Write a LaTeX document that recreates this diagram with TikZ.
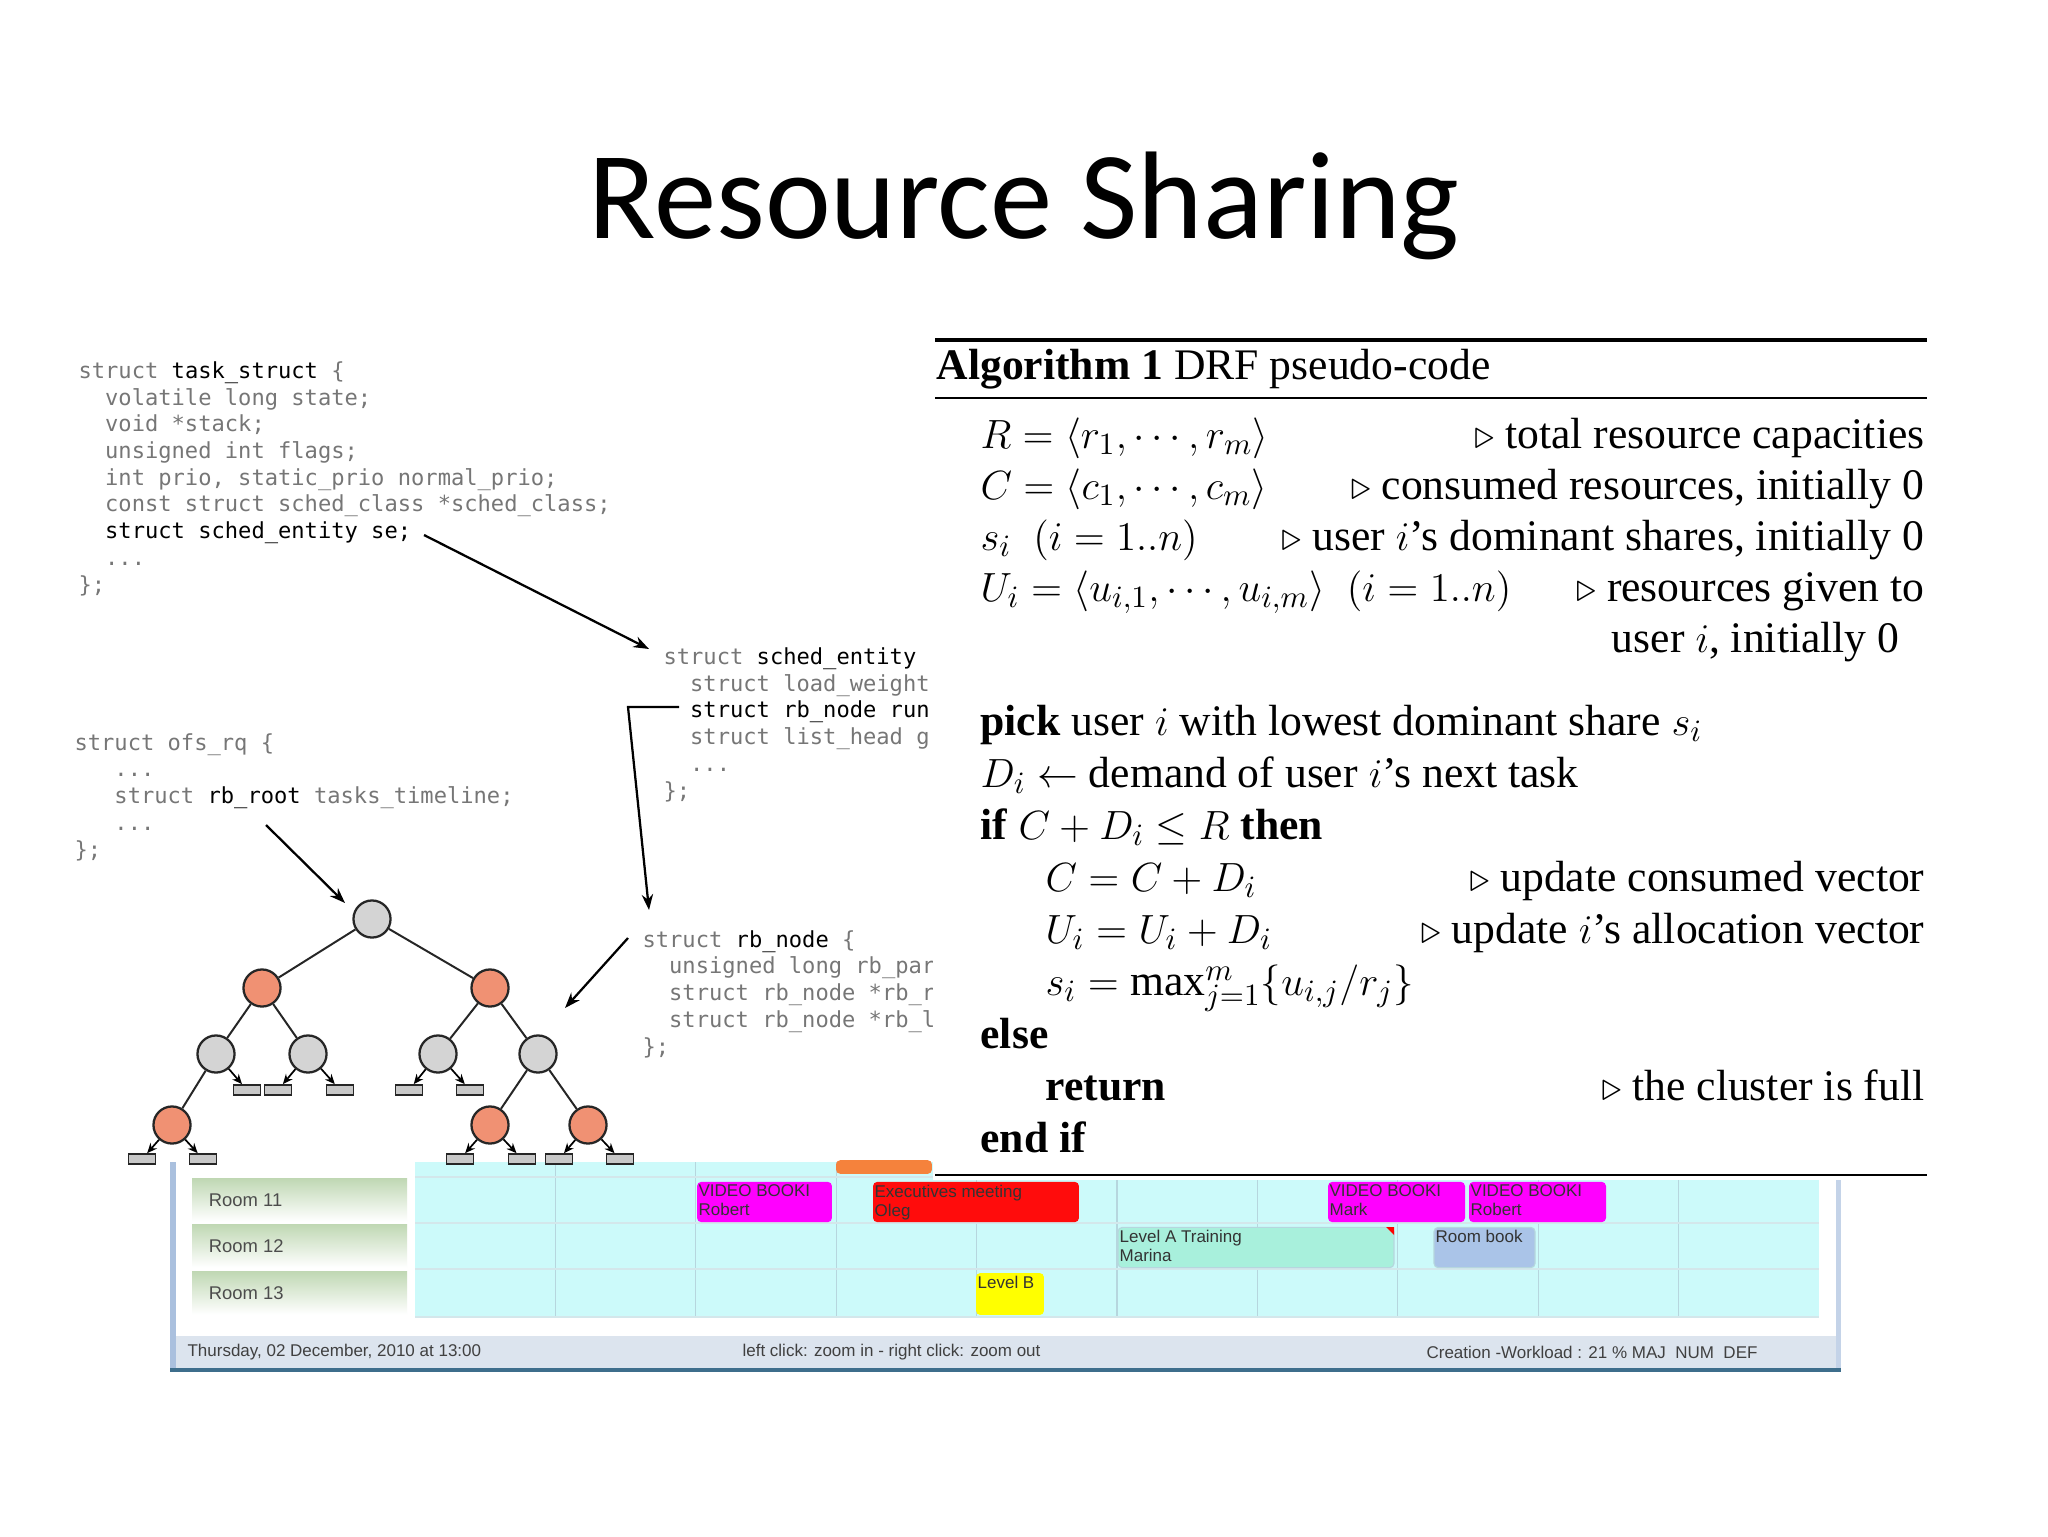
\documentclass[tikz,border=0pt]{standalone}
\usepackage{fontspec}
\setmainfont{Liberation Serif}
\newfontfamily\titlefam{Carlito}
\newfontfamily\codefam{DejaVu Sans Mono}
\newfontfamily\uifam{Liberation Sans}
\usetikzlibrary{arrows.meta,positioning}
\definecolor{codegray}{RGB}{118,118,118}
\definecolor{nodegray}{RGB}{212,212,212}
\definecolor{nodered}{RGB}{240,145,115}
\definecolor{nilgray}{RGB}{200,200,200}
\definecolor{gridcyan}{RGB}{204,250,250}
\definecolor{gridline}{RGB}{182,214,222}
\definecolor{roomgreen}{RGB}{192,216,180}
\definecolor{winblue}{RGB}{170,192,222}
\definecolor{barblue}{RGB}{220,228,238}
\definecolor{frameteal}{RGB}{62,110,140}
\definecolor{evmag}{RGB}{255,0,255}
\definecolor{evred}{RGB}{255,12,12}
\definecolor{evaqua}{RGB}{168,240,220}
\definecolor{evblue}{RGB}{170,196,232}
\definecolor{evyellow}{RGB}{255,255,0}
\definecolor{evorange}{RGB}{245,130,60}
\newcommand{\codefont}{\codefam\fontsize{7.8}{9.42}\selectfont}
\newcommand{\algfont}{\fontsize{15.4}{18}\selectfont}
\newcommand{\hl}[1]{\textcolor{black}{#1}}
\newcommand{\tb}{\phantom{xx}}
\newcommand{\tbb}{\phantom{xxx}}

\begin{document}
\begin{tikzpicture}[x=0.0124023cm,y=-0.0124023cm,
  code/.style={font=\codefont,text=codegray,align=left,inner sep=0pt,anchor=base west},
  gnode/.style={circle,draw=black!85,fill=nodegray,line width=0.8pt,minimum size=0.46cm,inner sep=0pt},
  rnode/.style={gnode,fill=nodered},
  nil/.style={draw=black!85,fill=nilgray,line width=0.6pt,minimum width=0.335cm,minimum height=0.124cm,inner sep=0pt},
  edge/.style={line width=0.7pt,black!85},
  nilptr/.style={-{Stealth[length=3.5pt,width=3pt]},line width=0.6pt},
  ptr/.style={-{Stealth[length=5.5pt,width=4pt]},line width=0.8pt},
  algtxt/.style={font=\algfont,inner sep=0pt,anchor=base west},
  algcmt/.style={font=\algfont,inner sep=0pt,anchor=base east},
  roomcell/.style={top color=roomgreen,bottom color=white,minimum width=2.667cm,minimum height=0.53cm,inner sep=0pt},
  roomtxt/.style={font=\uifam\fontsize{6.5}{7}\selectfont,text=black!70,inner sep=0pt,anchor=west},
  event/.style={rounded corners=1.5pt,inner sep=0pt,minimum height=0.5cm},
  evtxt/.style={font=\uifam\fontsize{6}{6.6}\selectfont,text=black!80,align=left,inner sep=0pt},
  bartxt/.style={font=\uifam\fontsize{6}{7}\selectfont,text=black!75,inner sep=0pt,anchor=west}]
\useasboundingbox (0,0) rectangle (2048,1536);

% title
\node[font=\titlefam\fontsize{44}{50}\selectfont,anchor=base,inner sep=0pt] (title) at (1024,238) {Resource Sharing};

% calendar screenshot
\fill[white] (170,1162) rectangle (1841,1372);
\fill[gridcyan] (415,1162) rectangle (1819,1317);
\foreach \k in {1,...,9}
  \draw[gridline,line width=0.4pt] ({415+140.4*\k},1162) -- ({415+140.4*\k},1317);
\foreach \r in {1177,1223,1269,1317}
  \draw[gridline!60,line width=0.6pt] (415,\r) -- (1819,\r);
\fill[winblue] (170,1162) rectangle (176,1370);
\fill[winblue!70] (1836,1162) rectangle (1841,1370);
\fill[barblue] (176,1336) rectangle (1836,1368);
\fill[frameteal] (170,1368) rectangle (1841,1372);
\node[roomcell] (rm11) at (299.5,1200) {};
\node[roomcell] (rm12) at (299.5,1246) {};
\node[roomcell] (rm13) at (299.5,1293) {};
\node[roomtxt,right=0.21cm of rm11.west] (t11) {Room 11};
\node[roomtxt,right=0.21cm of rm12.west] (t12) {Room 12};
\node[roomtxt,right=0.21cm of rm13.west] (t13) {Room 13};
\node[event,fill=evorange,minimum width=1.19cm,minimum height=0.17cm] (evo) at (884,1167) {};
\node[event,fill=evmag,minimum width=1.674cm] (ev1) at (764.5,1202) {};
\node[event,fill=evred,minimum width=2.555cm] (ev2) at (976,1202) {};
\node[event,fill=evmag,minimum width=1.699cm] (ev3) at (1396.5,1202) {};
\node[event,fill=evmag,minimum width=1.699cm] (ev4) at (1537.5,1202) {};
\node[event,fill=evaqua,draw=gridline,minimum width=3.423cm] (ev5) at (1256,1247.5) {};
\node[event,fill=evblue,draw=gridline,minimum width=1.253cm] (ev6) at (1484.5,1247.5) {};
\node[event,fill=evyellow,minimum width=0.843cm,minimum height=0.52cm] (ev7) at (1010,1294) {};
\fill[red] (1394,1227) -- (1386,1227) -- (1394,1235) -- cycle;
\node[evtxt,below right=0.04cm and 0.02cm of ev1.north west] {VIDEO BOOKI\\Robert};
\node[evtxt,below right=0.04cm and 0.02cm of ev2.north west] {Executives meeting\\Oleg};
\node[evtxt,below right=0.04cm and 0.02cm of ev3.north west] {VIDEO BOOKI\\Mark};
\node[evtxt,below right=0.04cm and 0.02cm of ev4.north west] {VIDEO BOOKI\\Robert};
\node[evtxt,below right=0.04cm and 0.02cm of ev5.north west] {Level A Training\\Marina};
\node[evtxt,below right=0.04cm and 0.02cm of ev6.north west] {Room book};
\node[evtxt,below right=0.04cm and 0.02cm of ev7.north west] {Level B};
\node[bartxt] (bar1) at (187,1352) {Thursday, 02 December, 2010 at 13:00};
\node[bartxt] (bar2) at (742,1352) {left click: zoom in - right click: zoom out};
\node[bartxt] (bar3) at (1426,1352) {Creation -Workload : 21 \% MAJ~~NUM~~DEF};

% kernel structs (base = last line)
\node[code] (task) at (78,592) {struct \hl{task\_struct} \{\\
\tb volatile long state;\\
\tb void *stack;\\
\tb unsigned int flags;\\
\tb int prio, static\_prio normal\_prio;\\
\tb const struct sched\_class *sched\_class;\\
\tb \hl{struct sched\_entity se;}\\
\tb ...\\
\};};
\node[code] (cfsrq) at (74,857) {struct ofs\_rq \{\\
\tbb ...\\
\tbb struct \hl{rb\_root} tasks\_timeline;\\
\tbb ...\\
\};};
\node[code] (sent) at (663,798) {struct \hl{sched\_entity}\\
\tb struct load\_weight\\
\tb \hl{struct rb\_node run}\\
\tb struct list\_head g\\
\tb ...\\
\};};
\node[code] (rbn) at (642,1054) {struct \hl{rb\_node} \{\\
\tb unsigned long rb\_par\\
\tb struct rb\_node *rb\_r\\
\tb struct rb\_node *rb\_l\\
\};};

% red-black tree
\node[gnode] (root) at (372,919) {};
\node[rnode] (a) at (262,988) {};
\node[rnode] (b) at (490,988) {};
\node[gnode] (c) at (216,1054) {};
\node[gnode] (d) at (308,1054) {};
\node[gnode] (e) at (438,1054) {};
\node[gnode] (f) at (538,1054) {};
\node[rnode] (g) at (172,1125) {};
\node[rnode] (h) at (490,1125) {};
\node[rnode] (k) at (588,1125) {};
\node[nil] (n1) at (247,1090) {};
\node[nil] (n2) at (278,1090) {};
\node[nil] (n3) at (340,1090) {};
\node[nil] (n4) at (409,1090) {};
\node[nil] (n5) at (470,1090) {};
\node[nil] (n6) at (142,1159) {};
\node[nil] (n7) at (203,1159) {};
\node[nil] (n8) at (460,1159) {};
\node[nil] (n9) at (522,1159) {};
\node[nil] (n10) at (559,1159) {};
\node[nil] (n11) at (620,1159) {};
\draw[edge] (root) -- (a);
\draw[edge] (root) -- (b);
\draw[edge] (a) -- (c);
\draw[edge] (a) -- (d);
\draw[edge] (b) -- (e);
\draw[edge] (b) -- (f);
\draw[edge] (c) -- (g);
\draw[edge] (f) -- (h);
\draw[edge] (f) -- (k);
\draw[nilptr] (c) -- (n1);
\draw[nilptr] (d) -- (n2);
\draw[nilptr] (d) -- (n3);
\draw[nilptr] (e) -- (n4);
\draw[nilptr] (e) -- (n5);
\draw[nilptr] (g) -- (n6);
\draw[nilptr] (g) -- (n7);
\draw[nilptr] (h) -- (n8);
\draw[nilptr] (h) -- (n9);
\draw[nilptr] (k) -- (n10);
\draw[nilptr] (k) -- (n11);

% pointers
\coordinate (seref) at (424,535);
\coordinate (setip) at (649,649);
\coordinate (runref) at (679,707);
\coordinate (runbend) at (628,707);
\coordinate (runtip) at (649,910);
\coordinate (rootref) at (266,825);
\coordinate (rootip) at (345,903);
\coordinate (rbnref) at (628,938);
\coordinate (rbntip) at (565,1008);
\draw[ptr] (seref) -- (setip);
\draw[ptr] (runref) -- (runbend) -- (runtip);
\draw[ptr] (rootref) -- (rootip);
\draw[ptr] (rbnref) -- (rbntip);

% algorithm box
\fill[white] (933,332) rectangle (1932,1180);
\draw[line width=1.1pt] (935,340) -- (1927,340);
\draw[line width=0.7pt] (935,398) -- (1927,398);
\draw[line width=0.9pt] (935,1175) -- (1927,1175);
\node[algtxt] (ahead) at (936,379) {\textbf{Algorithm 1} DRF pseudo-code};
\node[algtxt] (l1) at (980,448) {$R = \langle r_1, \cdots, r_m\rangle$};
\node[algcmt] (c1) at (1925,448) {$\triangleright$ total resource capacities};
\node[algtxt] (l2) at (980,499) {$C = \langle c_1, \cdots, c_m\rangle$};
\node[algcmt] (c2) at (1925,499) {$\triangleright$ consumed resources, initially 0};
\node[algtxt] (l3) at (980,550) {$s_i\ \ (i = 1..n)$};
\node[algcmt] (c3) at (1925,550) {$\triangleright$ user $i$'s dominant shares, initially 0};
\node[algtxt] (l4) at (980,601) {$U_i = \langle u_{i,1}, \cdots, u_{i,m}\rangle\ \ (i = 1..n)$};
\node[algcmt] (c4) at (1925,601) {$\triangleright$ resources given to};
\node[algcmt] (c4b) at (1900,652) {user $i$, initially 0};
\node[algtxt] (l5) at (980,735) {\textbf{pick} user $i$ with lowest dominant share $s_i$};
\node[algtxt] (l6) at (980,787) {$D_i \leftarrow$ demand of user $i$'s next task};
\node[algtxt] (l7) at (980,839) {\textbf{if} $C + D_i \leq R$ \textbf{then}};
\node[algtxt] (l8) at (1045,891) {$C = C + D_i$};
\node[algcmt] (c8) at (1925,891) {$\triangleright$ update consumed vector};
\node[algtxt] (l9) at (1045,943) {$U_i = U_i + D_i$};
\node[algcmt] (c9) at (1925,943) {$\triangleright$ update $i$'s allocation vector};
\node[algtxt] (l10) at (1045,995) {$s_i = \max_{j=1}^{m}\{u_{i,j}/r_j\}$};
\node[algtxt] (l11) at (980,1048) {\textbf{else}};
\node[algtxt] (l12) at (1045,1100) {\textbf{return}};
\node[algcmt] (c12) at (1925,1100) {$\triangleright$ the cluster is full};
\node[algtxt] (l13) at (980,1152) {\textbf{end if}};
\end{tikzpicture}
\end{document}
